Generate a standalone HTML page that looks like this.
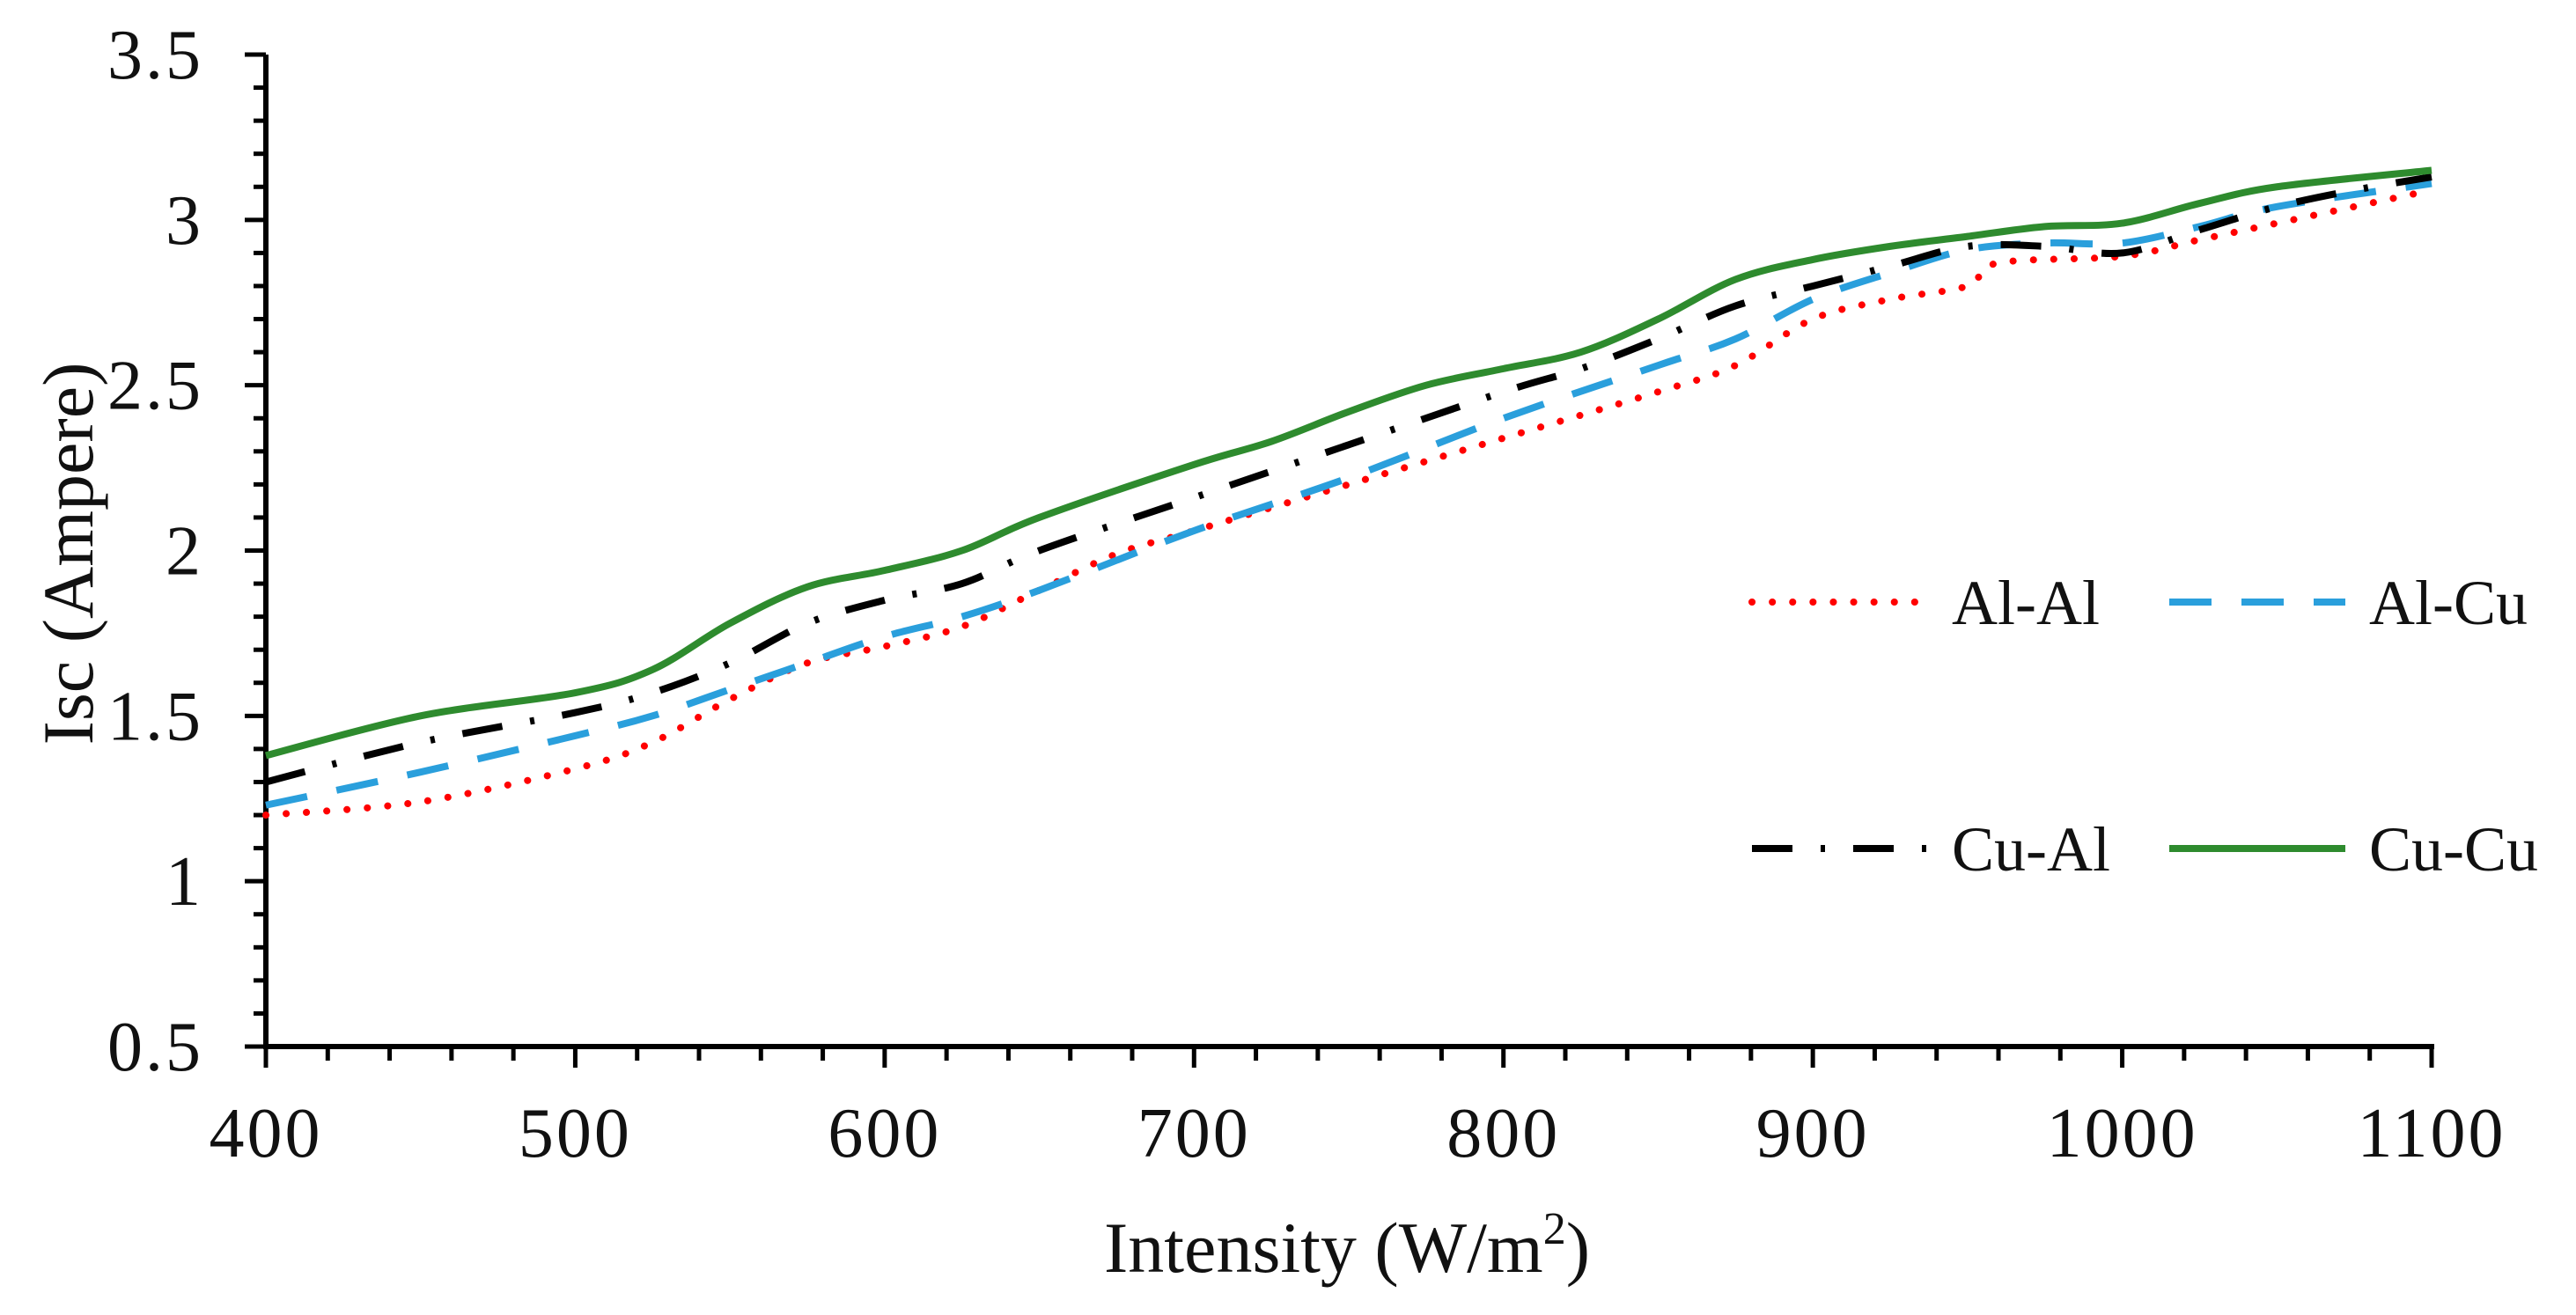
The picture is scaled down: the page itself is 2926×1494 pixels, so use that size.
<!DOCTYPE html>
<html><head><meta charset="utf-8"><style>
html,body{margin:0;padding:0;background:#fff;}
svg{display:block;font-family:"Liberation Serif",serif;}
</style></head><body>
<svg id="chart" width="2926" height="1494" viewBox="0 0 2926 1494" xmlns="http://www.w3.org/2000/svg">
<g id="axes"></g>
<g id="series"></g>
<g id="legend"></g>
<text transform="translate(105,629) rotate(-90)" text-anchor="middle" font-size="82" fill="#111">Isc (Ampere)</text>
<text x="1530" y="1445" text-anchor="middle" font-size="82" fill="#111">Intensity (W/m<tspan font-size="52" dy="-32">2</tspan><tspan dy="32">)</tspan></text>
</svg>
<script>
const xTicks=[400,500,600,700,800,900,1000,1100];
const yTicks=[0.5,1,1.5,2,2.5,3,3.5];
const yTickLabels=["0.5","1","1.5","2","2.5","3","3.5"];
const seriesNames=["Al-Al","Al-Cu","Cu-Al","Cu-Cu"];
const xAlAl=[400,450,500,525,550,575,600,625,650,675,700,750,800,850,875,900,925,950,960,1000,1025,1050,1100];
const yAlAl=[1.20,1.24,1.34,1.42,1.55,1.66,1.71,1.77,1.88,1.99,2.06,2.20,2.34,2.48,2.56,2.70,2.76,2.80,2.87,2.89,2.94,2.99,3.09];
const xAlCu=[400,450,500,525,550,575,600,625,650,700,750,800,850,875,900,925,950,975,1000,1025,1050,1100];
const yAlCu=[1.23,1.33,1.44,1.50,1.58,1.66,1.74,1.80,1.88,2.06,2.22,2.40,2.56,2.64,2.76,2.84,2.91,2.93,2.93,2.98,3.04,3.11];
const xCuAl=[400,450,500,525,550,575,600,625,650,700,750,800,825,850,875,900,925,950,975,1000,1025,1050,1075,1100];
const yCuAl=[1.30,1.42,1.51,1.57,1.66,1.78,1.85,1.90,2.00,2.16,2.32,2.48,2.55,2.64,2.74,2.80,2.86,2.92,2.92,2.90,2.97,3.04,3.09,3.13];
const xCuCu=[400,450,500,525,550,575,600,625,650,700,725,750,775,800,825,850,875,900,925,950,975,1000,1025,1050,1100];
const yCuCu=[1.38,1.50,1.57,1.64,1.78,1.89,1.94,2.00,2.10,2.26,2.33,2.42,2.50,2.55,2.60,2.70,2.82,2.88,2.92,2.95,2.98,2.99,3.05,3.10,3.15];

const L=302,R=2762,T=62,B=1189;
const sx=v=>L+(v-400)/(1100-400)*(R-L);
const sy=v=>B-(v-0.5)/(3.5-0.5)*(B-T);
const NS="http://www.w3.org/2000/svg";
function mk(tag,attrs,parent){const e=document.createElementNS(NS,tag);for(const k in attrs)e.setAttribute(k,attrs[k]);parent.appendChild(e);return e;}
const ax=document.getElementById('axes');
let e;
e=mk('line',{x1:L,y1:T,x2:L,y2:B,stroke:'#000','stroke-width':6},ax);


e=mk('line',{x1:L-3,y1:B,x2:R+3,y2:B,stroke:'#000','stroke-width':6},ax);


for(let v=0.5;v<=3.5001;v+=0.1){const maj=Math.abs(v*2-Math.round(v*2))<1e-6;
 e=mk('line',{x1:maj?L-24:L-14,y1:sy(v),x2:L,y2:sy(v),stroke:'#000','stroke-width':5},ax);
 
 }
for(let v=400;v<=1100;v+=20){const maj=v%100===0;
 e=mk('line',{x1:sx(v),y1:B,x2:sx(v),y2:maj?B+24:B+16,stroke:'#000','stroke-width':5},ax);
 
 }
yTicks.forEach((v,i)=>{e=mk('text',{x:231,y:sy(v)+27,'text-anchor':'end','font-size':80,'letter-spacing':3,fill:'#111'},ax);e.textContent=yTickLabels[i];
 
 });
xTicks.forEach(v=>{e=mk('text',{x:sx(v),y:1314,'text-anchor':'middle','font-size':80,'letter-spacing':3,fill:'#111'},ax);e.textContent=String(v);
 
 });
function pathD(xs,ys){const p=xs.map((x,i)=>[sx(x),sy(ys[i])]);let d=`M${p[0][0]},${p[0][1]}`;
 for(let i=0;i<p.length-1;i++){const p0=p[i-1]||p[i],p1=p[i],p2=p[i+1],p3=p[i+2]||p2;
  const c1=[p1[0]+(p2[0]-p0[0])/6,p1[1]+(p2[1]-p0[1])/6],c2=[p2[0]-(p3[0]-p1[0])/6,p2[1]-(p3[1]-p1[1])/6];
  d+=` C${c1[0]},${c1[1]} ${c2[0]},${c2[1]} ${p2[0]},${p2[1]}`;}return d;}
const styles=[
 {stroke:'#ff0000',dash:'0.1 23',cap:'round',w:8},
 {stroke:'#2a9fdc',dash:'48 34',cap:'butt',w:8},
 {stroke:'#000000',dash:'46 32 5 32',cap:'butt',w:8},
 {stroke:'#2e8b2e',dash:'',cap:'butt',w:8}];
const data=[[xAlAl,yAlAl],[xAlCu,yAlCu],[xCuAl,yCuAl],[xCuCu,yCuCu]];
const sg=document.getElementById('series');
data.forEach((d,i)=>{const s=styles[i];
 e=mk('path',{d:pathD(d[0],d[1]),fill:'none',stroke:s.stroke,'stroke-width':s.w,'stroke-linecap':s.cap,'stroke-dasharray':s.dash},sg);
 
 });
const lg=document.getElementById('legend');
const pos=[[1990,684],[2464,684],[1990,964],[2464,964]];
seriesNames.forEach((n,i)=>{const s=styles[i],[x,y]=pos[i];
 const g=mk('g',{},lg);
 
 
 mk('line',{x1:x,y1:y,x2:x+200,y2:y,stroke:s.stroke,'stroke-width':s.w,'stroke-linecap':s.cap,'stroke-dasharray':s.dash},g);
 const t=mk('text',{x:x+227,y:y+25,'font-size':72,fill:'#111'},g);t.textContent=n;});
</script>
</body></html>
